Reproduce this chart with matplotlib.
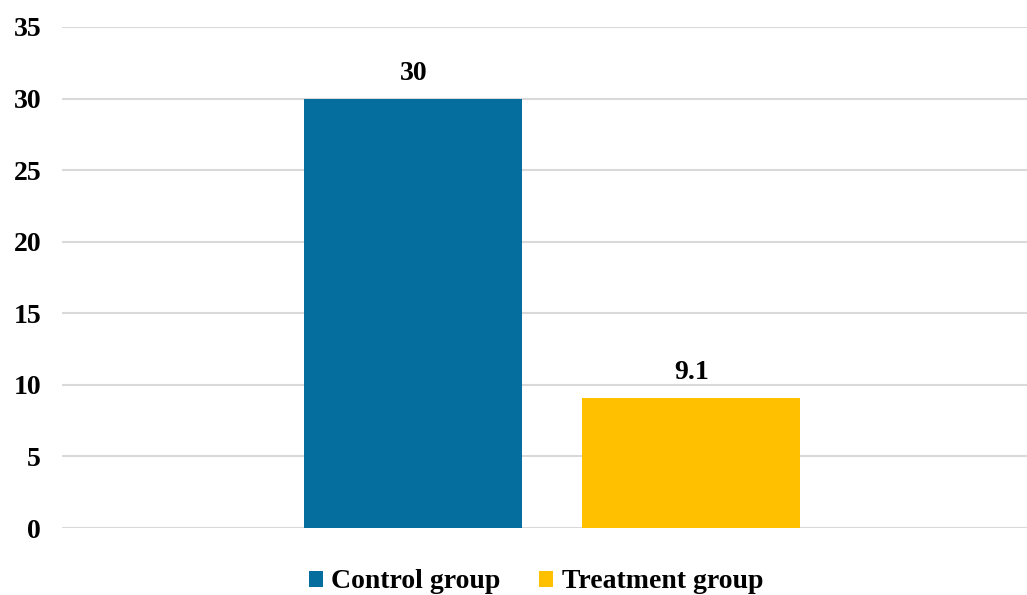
import matplotlib.pyplot as plt
import numpy as np

plt.rcParams['font.family'] = ['Liberation Serif', 'DejaVu Serif']
plt.rcParams['font.weight'] = 'bold'

groups = ['Control group', 'Treatment group']
values = [30, 9.1]
value_labels = ['30', '9.1']
colors = ['#066E9E', '#FFC000']
yticks = [0, 5, 10, 15, 20, 25, 30, 35]

fig = plt.figure(figsize=(10.27, 5.95), dpi=100)
ax = fig.add_axes([62 / 1027, 1 - 528 / 595, 965 / 1027, 501 / 595])

width = 0.226
offsets = [-0.136, 0.152]
for off, v, lab, c, g in zip(offsets, values, value_labels, colors, groups):
    ax.bar(off, v, width=width, color=c, label=g, zorder=3)
    ax.text(off, v + 0.9, lab, ha='center', va='bottom', fontsize=20, fontweight='bold')

ax.set_xlim(-0.5, 0.5)
ax.set_ylim(0, 35)
ax.set_yticks(yticks)
ax.set_yticklabels([str(t) for t in yticks], fontsize=20, fontweight='bold')
ax.set_xticks([])
ax.tick_params(axis='y', length=0, pad=15)
ax.grid(axis='y', color='#D9D9D9', linewidth=1.5, zorder=0)
for s in ax.spines.values():
    s.set_visible(False)

fig.legend(loc='center', bbox_to_anchor=(536 / 1027, 1 - 582 / 595), ncol=2, frameon=False,
           prop={'size': 20, 'weight': 'bold'}, handlelength=0.5, handleheight=0.5,
           handletextpad=0.3, columnspacing=1.4)

fig.savefig('out.png', dpi=100)
